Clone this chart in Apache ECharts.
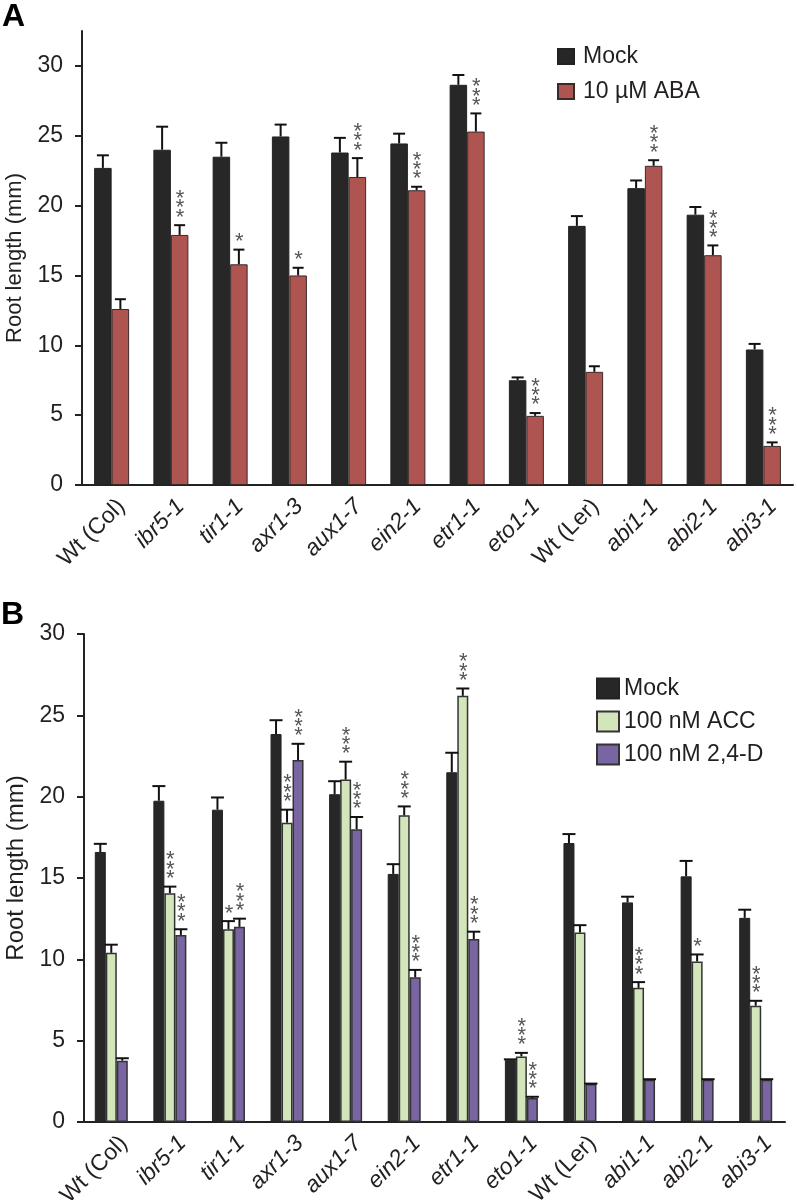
<!DOCTYPE html>
<html>
<head>
<meta charset="utf-8">
<script src="https://cdn.jsdelivr.net/npm/echarts@6/dist/echarts.min.js"></script>
<style>html,body{margin:0;padding:0;background:#fff;}#c{width:797px;height:1200px;}</style>
</head>
<body>
<div id="c"></div>
<script>
// ---------- data ----------
const categories = ['Wt (Col)','ibr5-1','tir1-1','axr1-3','aux1-7','ein2-1','etr1-1','eto1-1','Wt (Ler)','abi1-1','abi2-1','abi3-1'];
const yTicksA = [0,5,10,15,20,25,30];
const yTicksB = [0,5,10,15,20,25,30];

// Panel A
const mockA    = [22.7, 24.0, 23.5, 24.95, 23.8, 24.45, 28.65, 7.5, 18.55, 21.25, 19.35, 9.7];
const mockAErr = [0.9, 1.65, 1.0, 0.85, 1.05, 0.7, 0.7, 0.2, 0.7, 0.55, 0.55, 0.4];
const abaA     = [12.6, 17.9, 15.8, 15.0, 22.05, 21.1, 25.3, 4.95, 8.1, 22.85, 16.45, 2.8];
const abaAErr  = [0.7, 0.7, 1.05, 0.55, 1.35, 0.25, 1.3, 0.2, 0.4, 0.4, 0.7, 0.25];
const abaASig  = ['', '***', '*', '*', '***', '***', '***', '***', '', '***', '***', '***'];

// Panel B
const mockB    = [16.6, 19.75, 19.2, 23.85, 20.15, 15.25, 21.5, 3.8, 17.15, 13.5, 15.1, 12.55];
const mockBErr = [0.5, 0.9, 0.75, 0.85, 0.8, 0.6, 1.2, 0.05, 0.55, 0.35, 0.95, 0.5];
const accB     = [10.4, 14.07, 11.85, 18.4, 21.05, 18.85, 26.2, 4.03, 11.65, 8.25, 9.87, 7.15];
const accBErr  = [0.5, 0.4, 0.5, 0.8, 1.1, 0.55, 0.45, 0.22, 0.45, 0.35, 0.43, 0.3];
const accBSig  = ['', '***', '*', '***', '***', '***', '***', '***', '', '***', '*', '***'];
const d24B     = [3.77, 11.5, 12.0, 22.25, 18.0, 8.9, 11.25, 1.47, 2.33, 2.6, 2.6, 2.6];
const d24BErr  = [0.15, 0.35, 0.5, 1.0, 0.75, 0.45, 0.45, 0.08, 0.03, 0.03, 0.03, 0.03];
const d24BSig  = ['', '***', '***', '***', '***', '***', '***', '***', '', '', '', ''];

// ---------- styling ----------
const FONT = 'Liberation Sans, Arial, Helvetica, sans-serif';
const TXT = '#231f20';
const C_MOCK = '#272727', C_ABA = '#ae5451', C_ACC = '#d3e5bb', C_D24 = '#7a65a3';

function catLabel(v) {
  return v.indexOf('Wt') === 0 ? '{n|' + v + '}' : '{i|' + v + '}';
}

function errSeries(name, xi, yi, vals, errs, sigs, idx, n, bw, capW) {
  return {
    type: 'custom', name: name + ' err', xAxisIndex: xi, yAxisIndex: yi, z: 5, silent: true,
    data: vals.map((v, i) => [i, v, errs[i]]),
    encode: { x: 0, y: 1 },
    renderItem: function (params, api) {
      const i = api.value(0);
      const base = api.coord([i, api.value(1)]);
      const top = api.coord([i, api.value(1) + api.value(2)]);
      const x = base[0] + (idx - (n - 1) / 2) * bw;
      const children = [
        { type: 'line', shape: { x1: x, y1: base[1], x2: x, y2: top[1] }, style: { stroke: '#111', lineWidth: 2 } },
        { type: 'line', shape: { x1: x - capW / 2, y1: top[1], x2: x + capW / 2, y2: top[1] }, style: { stroke: '#111', lineWidth: 2 } }
      ];
      const s = sigs ? sigs[params.dataIndex] : '';
      if (s) {
        children.push({
          type: 'text', x: x + 0.5, y: top[1] - 3,
          style: { text: s.split('').join('\n'), fontSize: 22, lineHeight: 9.3, fontFamily: FONT,
                   fill: '#555', align: 'center', verticalAlign: 'bottom' }
        });
      }
      return { type: 'group', children: children };
    }
  };
}

const xAxisCommon = (margin, lh) => ({
  type: 'category', data: categories,
  axisLine: { lineStyle: { color: '#222', width: 2 } },
  axisTick: { show: false },
  axisLabel: {
    rotate: 45, interval: 0, margin: margin, verticalAlign: 'top',
    formatter: catLabel,
    rich: {
      n: { fontSize: 23, fontFamily: FONT, color: TXT, lineHeight: lh },
      i: { fontSize: 23, fontFamily: FONT, color: TXT, fontStyle: 'italic', lineHeight: lh }
    }
  }
});

const yAxisCommon = (max, ticks, nameSize, gap, namePad) => ({
  type: 'value', min: 0, max: max, interval: 5,
  name: 'Root length (mm)', nameLocation: 'middle', nameGap: gap,
  nameTextStyle: { fontSize: nameSize, fontFamily: FONT, color: TXT, padding: namePad },
  axisLine: { show: true, lineStyle: { color: '#222', width: 2 } },
  axisTick: { show: true, length: 7, lineStyle: { color: '#222', width: 2 }, customValues: ticks },
  axisLabel: { fontSize: 23, fontFamily: FONT, color: TXT, margin: 19, customValues: ticks },
  splitLine: { show: false }
});

const chart = echarts.init(document.getElementById('c'), null, { renderer: 'canvas' });
chart.setOption({
  backgroundColor: '#fff',
  animation: false,
  title: [
    { text: 'A', left: 2, top: 1, padding: 0, textStyle: { fontSize: 32, fontWeight: 'bold', fontFamily: FONT, color: '#000' } },
    { text: 'B', left: 1, top: 599, padding: 0, textStyle: { fontSize: 32, fontWeight: 'bold', fontFamily: FONT, color: '#000' } }
  ],
  legend: [
    { data: ['Mock', '10 µM ABA'], orient: 'vertical', left: 557, top: 45, padding: 0,
      itemWidth: 16, itemHeight: 15, itemGap: 12, icon: 'rect', selectedMode: false,
      textStyle: { fontSize: 23, fontFamily: FONT, color: TXT, padding: [0, 0, 0, 4] } },
    { data: ['Mock', '100 nM ACC', '100 nM 2,4-D'], orient: 'vertical', left: 596, top: 677, padding: 0,
      itemWidth: 22, itemHeight: 20, itemGap: 10, icon: 'rect', selectedMode: false,
      textStyle: { fontSize: 23, fontFamily: FONT, color: TXT } }
  ],
  grid: [
    { left: 82, right: 4, top: 31, height: 454, containLabel: false, outerBoundsMode: 'none' },
    { left: 82, right: 12, top: 634, height: 488, containLabel: false, outerBoundsMode: 'none' }
  ],
  xAxis: [
    Object.assign({ gridIndex: 0 }, xAxisCommon(8, 28)),
    Object.assign({ gridIndex: 1 }, xAxisCommon(5, 36))
  ],
  yAxis: [
    Object.assign({ gridIndex: 0 }, yAxisCommon(32.5, yTicksA, 22, 56, 0)),
    Object.assign({ gridIndex: 1, offset: -2 }, yAxisCommon(30, yTicksB, 24, 55, [0, 0, 0, 20]))
  ],
  series: [
    { type: 'bar', name: 'Mock', xAxisIndex: 0, yAxisIndex: 0, data: mockA, barWidth: 17.5, barGap: '0%',
      itemStyle: { color: C_MOCK, borderColor: '#222', borderWidth: 1 } },
    { type: 'bar', name: '10 µM ABA', xAxisIndex: 0, yAxisIndex: 0, data: abaA, barWidth: 17.5, barGap: '0%',
      itemStyle: { color: C_ABA, borderColor: '#3a2a2a', borderWidth: 1 } },
    errSeries('Mock A', 0, 0, mockA, mockAErr, null, 0, 2, 17.5, 12),
    errSeries('ABA A', 0, 0, abaA, abaAErr, abaASig, 1, 2, 17.5, 11),

    { type: 'bar', name: 'Mock', xAxisIndex: 1, yAxisIndex: 1, data: mockB, barWidth: 11, barGap: '0%',
      itemStyle: { color: C_MOCK, borderColor: '#222', borderWidth: 1 } },
    { type: 'bar', name: '100 nM ACC', xAxisIndex: 1, yAxisIndex: 1, data: accB, barWidth: 11, barGap: '0%',
      itemStyle: { color: C_ACC, borderColor: '#333', borderWidth: 1.5 } },
    { type: 'bar', name: '100 nM 2,4-D', xAxisIndex: 1, yAxisIndex: 1, data: d24B, barWidth: 11, barGap: '0%',
      itemStyle: { color: C_D24, borderColor: '#333', borderWidth: 1.5 } },
    errSeries('Mock B', 1, 1, mockB, mockBErr, null, 0, 3, 11, 13),
    errSeries('ACC B', 1, 1, accB, accBErr, accBSig, 1, 3, 11, 13),
    errSeries('D24 B', 1, 1, d24B, d24BErr, d24BSig, 2, 3, 11, 13)
  ]
});
</script>
</body>
</html>
